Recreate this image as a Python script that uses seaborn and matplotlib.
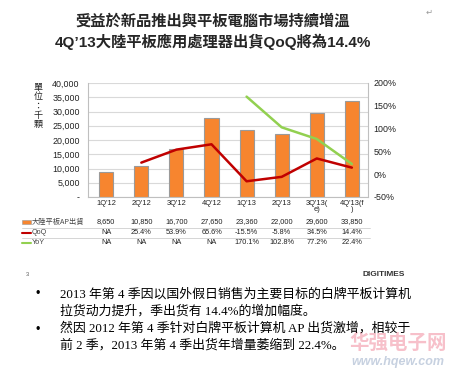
import numpy as np
import pandas as pd
import matplotlib
matplotlib.use("Agg")
import matplotlib.pyplot as plt
import matplotlib.transforms as mtransforms
import seaborn as sns

quarters = ["1Q'12", "2Q'12", "3Q'12", "4Q'12", "1Q'13", "2Q'13", "3Q'13(\ne)", "4Q'13(f\n)"]
shipments = [8650, 10850, 16700, 27650, 23360, 22000, 29600, 33850]
qoq = [np.nan, 25.4, 53.9, 65.6, -15.5, -5.8, 34.5, 14.4]
yoy = [np.nan, np.nan, np.nan, np.nan, 170.1, 102.8, 77.2, 22.4]
ship_labels = ["8,650", "10,850", "16,700", "27,650", "23,360", "22,000", "29,600", "33,850"]
qoq_labels = ["NA", "25.4%", "53.9%", "65.6%", "-15.5%", "-5.8%", "34.5%", "14.4%"]
yoy_labels = ["NA", "NA", "NA", "NA", "170.1%", "102.8%", "77.2%", "22.4%"]
left_ticks = [0, 5000, 10000, 15000, 20000, 25000, 30000, 35000, 40000]
left_tick_labels = ["-", "5,000", "10,000", "15,000", "20,000", "25,000", "30,000", "35,000", "40,000"]
right_ticks = [-50, 0, 50, 100, 150, 200]
right_tick_labels = ["-50%", "0%", "50%", "100%", "150%", "200%"]

sns.set_theme(style="white")
plt.rcParams['font.family'] = ['Liberation Sans', 'Noto Sans CJK TC', 'DejaVu Sans']

W, H = 454, 372
fig = plt.figure(figsize=(W / 100, H / 100), dpi=100)
fig.patch.set_facecolor("white")

def fx(px):
    return px / W

def fy(py):
    return 1 - py / H

ax = fig.add_axes([fx(88), fy(197), fx(368) - fx(88), fy(83) - fy(197)])
pos = np.arange(len(quarters))
df = pd.DataFrame({"pos": pos, "ship": shipments, "qoq": qoq, "yoy": yoy})

orange = "#F7852F"
red = "#C00000"
green = "#92D050"

sns.barplot(data=df, x="pos", y="ship", color=orange, width=0.4, edgecolor="#9A9A9A",
            linewidth=0.8, saturation=1, ax=ax, native_scale=True)
ax.set_xlim(-0.52, 7.46)
ax.set_ylim(0, 40000)
ax.set_yticks(left_ticks)
ax.set_yticklabels(left_tick_labels, fontsize=6.4, color="#222222")
ax.set_xticks(pos)
ax.set_xticklabels(quarters, fontsize=5.4, color="#222222", linespacing=0.9)
ax.tick_params(axis="both", length=0, pad=2)
ax.tick_params(axis="y", pad=6)
ax.set_xlabel("")
ax.set_ylabel("")
ax.grid(axis="y", color="#D9D9D9", linewidth=0.8)
ax.set_axisbelow(True)
for s in ["left", "bottom", "right"]:
    ax.spines[s].set_color("#BFBFBF")
    ax.spines[s].set_linewidth(0.8)
ax.spines["top"].set_visible(False)

ax2 = ax.twinx()
sns.lineplot(data=df.dropna(subset=["qoq"]), x="pos", y="qoq", color=red, linewidth=1.8, ax=ax2)
sns.lineplot(data=df.dropna(subset=["yoy"]), x="pos", y="yoy", color=green, linewidth=1.8, ax=ax2)
ax2.set_ylim(-50, 200)
ax2.set_yticks(right_ticks)
ax2.set_yticklabels(right_tick_labels, fontsize=6.4, color="#222222")
ax2.tick_params(axis="y", length=0, pad=4)
ax2.set_ylabel("")
ax2.set_xlabel("")
for s in ["left", "bottom", "right", "top"]:
    ax2.spines[s].set_visible(False)
ax.set_xlim(-0.52, 7.46)

# y label
fig.text(fx(38), fy(106), "單\n位\n：\n千\n顆", fontsize=6.5, ha="center", va="center",
         linespacing=1.05, color="#222222", family=['Noto Sans CJK TC'])

# title
fig.text(fx(213), fy(21), "受益於新品推出與平板電腦市場持續增溫", fontsize=11, ha="center", va="center",
         weight="bold", family=['Liberation Sans', 'Noto Sans CJK TC'])
fig.text(fx(213), fy(42), "4Q’13大陸平板應用處理器出貨QoQ將為14.4%", fontsize=11, ha="center", va="center",
         weight="bold", family=['Liberation Sans', 'Noto Sans CJK TC'])
fig.text(fx(429), fy(12), "↵", fontsize=6, color="#999999", ha="center", va="center", family=['DejaVu Sans'])

# data table
trans = mtransforms.blended_transform_factory(ax.transData, fig.transFigure)
row_y = [fy(222), fy(233), fy(243)]
for i in range(len(quarters)):
    ax.text(pos[i], row_y[0], ship_labels[i], transform=trans, fontsize=5.3, ha="center", va="center", color="#222222")
    ax.text(pos[i], row_y[1], qoq_labels[i], transform=trans, fontsize=5.3, ha="center", va="center", color="#222222")
    ax.text(pos[i], row_y[2], yoy_labels[i], transform=trans, fontsize=5.3, ha="center", va="center", color="#222222")

for yy in [228, 238]:
    fig.add_artist(plt.Line2D([fx(22), fx(370)], [fy(yy), fy(yy)], color="#CFCFCF", linewidth=0.6))

fig.add_artist(plt.Rectangle((fx(22), fy(224)), fx(9), fy(220) - fy(224), color=orange, ec="#999999", lw=0.4))
fig.add_artist(plt.Line2D([fx(22), fx(31)], [fy(233), fy(233)], color=red, linewidth=1.5))
fig.add_artist(plt.Line2D([fx(22), fx(31)], [fy(243), fy(243)], color=green, linewidth=1.5))
fig.text(fx(32), fy(222), "大陸平板AP出貨", fontsize=5.2, ha="left", va="center", color="#444444",
         family=['Noto Sans CJK TC'])
fig.text(fx(32), fy(233), "QoQ", fontsize=5.2, ha="left", va="center", color="#444444")
fig.text(fx(32), fy(243), "YoY", fontsize=5.2, ha="left", va="center", color="#444444")

# footer
fig.text(fx(27), fy(274), "3", fontsize=4, ha="center", va="center", color="#555555")
fig.text(fx(384), fy(274), "DIGITIMES", fontsize=6, ha="center", va="center", weight="bold", color="#333333")

# watermark
fig.text(fx(398), fy(343), "华强电子网", fontsize=14, ha="center", va="center", color="#F4A6B4",
         alpha=0.7, weight="bold", family=['Noto Sans CJK SC'])
fig.text(fx(398), fy(362), "www.hqew.com", fontsize=9, ha="center", va="center", color="#B9C6D9",
         alpha=0.8, style="italic", weight="bold")

# bullets
body = ['Liberation Serif', 'Noto Sans CJK SC']
fig.text(fx(38), fy(294), "•", fontsize=9, ha="center", va="center", color="black")
fig.text(fx(38), fy(330), "•", fontsize=9, ha="center", va="center", color="black")
lines = [
    (294, "2013 年第 4 季因以国外假日销售为主要目标的白牌平板计算机"),
    (311, "拉货动力提升，季出货有 14.4%的增加幅度。"),
    (328, "然因 2012 年第 4 季针对白牌平板计算机 AP 出货激增，相较于"),
    (345, "前 2 季，2013 年第 4 季出货年增量萎缩到 22.4%。"),
]
for yy, t in lines:
    fig.text(fx(60), fy(yy), t, fontsize=9.3, ha="left", va="center", color="black", family=body)

fig.savefig("out.png", dpi=100, facecolor="white")
